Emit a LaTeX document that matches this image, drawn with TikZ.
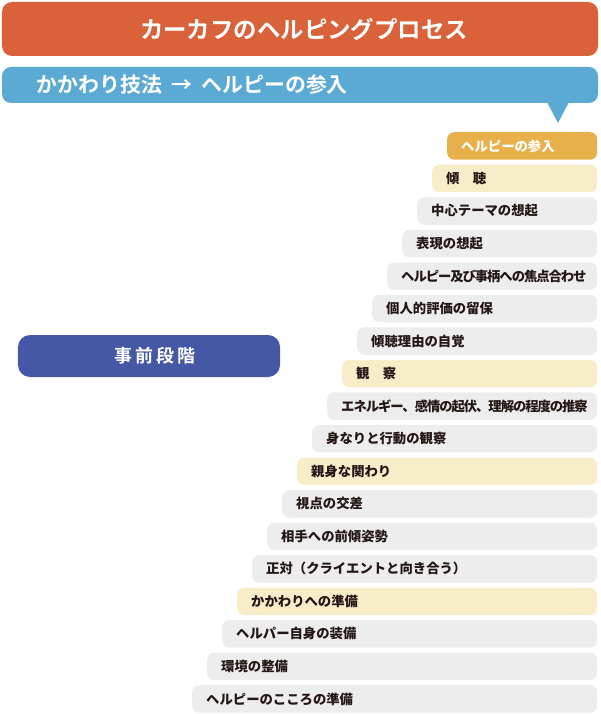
\documentclass[tikz,border=0pt]{standalone}
\usepackage{fontspec}
\setmainfont{Noto Sans CJK JP}
\newfontfamily\jpbold{Noto Sans CJK JP Bold}
\newfontfamily\jpheavy{Noto Sans CJK JP Black}
\newfontfamily\spacedjp{Noto Sans CJK JP Bold}[LetterSpace=18]
\newfontfamily\tightjp{Noto Sans CJK JP Black}[LetterSpace=-8]
\usetikzlibrary{positioning}

\definecolor{titleorange}{HTML}{D9623B}
\definecolor{skillblue}{HTML}{5AAAD4}
\definecolor{prenavy}{HTML}{4558A5}
\definecolor{stepgray}{HTML}{EDEDED}
\definecolor{stepyellow}{HTML}{F7EDC8}
\definecolor{steporange}{HTML}{E8B04A}
\definecolor{inkdark}{HTML}{231815}

\tikzset{
  titlebar/.style={fill=titleorange,rounded corners=10bp,minimum width=596bp,minimum height=54bp},
  titletext/.style={inner sep=0pt,text=white,font=\jpbold\fontsize{23.5}{28}\selectfont},
  skillbar/.style={fill=skillblue,rounded corners=9bp,minimum width=596bp,minimum height=36bp},
  skilltext/.style={inner sep=0pt,text=white,font=\jpbold\fontsize{21}{25}\selectfont},
  prebar/.style={fill=prenavy,rounded corners=12bp,minimum width=262bp,minimum height=42bp},
  pretext/.style={inner sep=0pt,text=white,font=\spacedjp\fontsize{18}{22}\selectfont},
  stepbox/.style={anchor=north west,rounded corners=7bp,minimum height=27.5bp,inner sep=0pt},
  steptext/.style={inner sep=0pt,font=\jpheavy\fontsize{13.4}{16}\selectfont}
}

\begin{document}
\begin{tikzpicture}[x=1bp,y=-1bp]
      \useasboundingbox (0,0) rectangle (601,714);
      \node[titlebar] (title) at (300,29) {};
      \node[titletext,xshift=4bp] (titletxt) at (title) {カーカフのヘルピングプロセス};
      \node[skillbar] (skill) at (300,85) {};
      \fill[skillblue] (547,102) -- (558,123) -- (569,102) -- cycle;
      \node[skilltext,right=35bp of skill.west] (skilltxt) {かかわり技法\hspace{9bp}→\hspace{9bp}ヘルピーの参入};
      \node[prebar] (pre) at (149,356) {};
      \node[pretext,xshift=6bp] (pretxt) at (pre) {事前段階};

      % steps, from the top one down
      \foreach \i/\bg/\ink/\txt in {
          1/steporange/white/ヘルピーの参入,
          2/stepyellow/inkdark/傾　聴,
          3/stepgray/inkdark/中心テーマの想起,
          4/stepgray/inkdark/表現の想起,
          5/stepgray/inkdark/\tightjp ヘルピー及び事柄への焦点合わせ,
          6/stepgray/inkdark/個人的評価の留保,
          7/stepgray/inkdark/傾聴理由の自覚,
          8/stepyellow/inkdark/観　察,
          9/stepgray/inkdark/\tightjp エネルギー、感情の起伏、理解の程度の推察,
          10/stepgray/inkdark/身なりと行動の観察,
          11/stepyellow/inkdark/親身な関わり,
          12/stepgray/inkdark/視点の交差,
          13/stepgray/inkdark/相手への前傾姿勢,
          14/stepgray/inkdark/正対（クライエントと向き合う）,
          15/stepyellow/inkdark/かかわりへの準備,
          16/stepgray/inkdark/ヘルパー自身の装備,
          17/stepgray/inkdark/環境の整備,
          18/stepgray/inkdark/ヘルピーのこころの準備} {
        \pgfmathsetmacro\w{150+(\i-1)*15}
        \node[stepbox,fill=\bg,minimum width=\w bp] (s\i) at ({597-\w},{132+(\i-1)*32.53}) {};
        \node[steptext,text=\ink,right=14bp of s\i.west] (t\i) {\txt};
      }
\end{tikzpicture}
\end{document}
